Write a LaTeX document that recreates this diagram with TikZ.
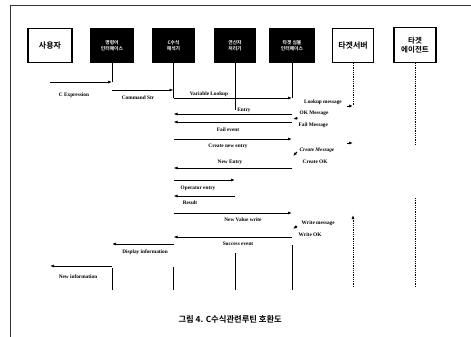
\documentclass[tikz,border=0pt]{standalone}
\usepackage{fontspec}
\setmainfont{Liberation Serif}
\newfontfamily\kr{Noto Sans CJK KR}[BoldFont={* Bold}]
\usetikzlibrary{arrows.meta,calc}
\tikzset{
  box/.style={draw,line width=1.1pt,minimum height=34pt,align=center,inner sep=1pt,font=\kr\bfseries\fontsize{8}{9}\selectfont},
  dark/.style={box,fill=black,text=white,font=\kr\bfseries\fontsize{4.8}{5.8}\selectfont},
  life/.style={line width=0.9pt},
  dlife/.style={line width=0.8pt,densely dotted},
  msg/.style={line width=0.8pt,-{Latex[length=4pt,width=3pt]}},
  lbl/.style={font=\bfseries\fontsize{5.3}{6}\selectfont,inner sep=0.5pt},
  frame/.style={line width=0.8pt,black!80}
}
\begin{document}
\begin{tikzpicture}[x=1pt,y=-1pt]
\useasboundingbox (0,0) rectangle (471,337);
\fill[white] (0,0) rectangle (471,337);
\draw[frame] (10,337) -- (10,5) -- (471,5);

% header boxes
\node[box,minimum width=44pt] (user) at (50,45.5) {사용자};
\node[dark,minimum width=43pt] (b2) at (112,45.5) {명령어\\인터페이스};
\node[dark,minimum width=41pt] (b3) at (173.5,45.5) {C수식\\해석기};
\node[dark,minimum width=40pt] (b4) at (235,45.5) {연산자\\처리기};
\node[dark,minimum width=45pt] (b5) at (292,45.5) {타겟 심볼\\인터페이스};
\node[box,minimum width=41pt] (ts) at (353,45.5) {타겟서버};
\node[box,minimum width=42pt,minimum height=35pt,font=\kr\bfseries\fontsize{7.5}{8.5}\selectfont] (ta) at (415,45) {타겟\\에이전트};

% upper lifelines
\draw[life] (b2.south) -- (b2 |- 0,82);
\draw[life] (b3.south) -- (b3 |- 0,98);
\draw[life] (b4.south) -- (b4 |- 0,110);
\draw[life] (b5.south) -- (b5 |- 0,98);
\draw[dlife] (ts.south) -- (ts |- 0,105);
\draw[dlife] (ta.south) -- (ta |- 0,145);
\draw[dlife] (ta |- 0,198) -- (ta |- 0,287);

% messages
\draw[msg] (user |- 0,82) -- (b2 |- 0,82);
\node[lbl] (l1) at (74,95) {C Expression};
\draw[msg] (b2 |- 0,90) -- (b3 |- 0,90);
\node[lbl] (l2) at (138,98) {Command Str};
\draw[msg] (b3 |- 0,98) -- (b5 |- 0,98);
\node[lbl] (l3) at (209,94) {Variable Lookup};

\draw[msg] ($(ts |- 0,106)+(-6,0)$) -- (ts |- 0,106);
\node[lbl] (l4) at (323,102) {Lookup message};

\node[lbl] (l5) at (244,110) {Entry};
\draw[msg] (b5 |- 0,114) -- (b3 |- 0,114);
\draw[msg] ($(b5 |- 0,118)+(6,0)$) -- ($(b5 |- 0,119)+(1,0)$);
\node[lbl,anchor=west] (l6) at (299,113) {OK Message};
\draw[msg] (b5 |- 0,122) -- (b3 |- 0,122);
\node[lbl,anchor=west] (l7) at (298,125) {Fail Message};
\node[lbl] (l8) at (228,130) {Fail event};

\draw[msg] (b3 |- 0,139) -- (b5 |- 0,139);
\node[lbl] (l9) at (228,146) {Create new entry};
\draw[msg] ($(ts |- 0,143)+(-6,0)$) -- (ts |- 0,143);
\node[lbl,anchor=west,font=\bfseries\itshape\fontsize{5.3}{6}\selectfont] (l10) at (299,150) {Create Message};
\draw[msg] ($(b5 |- 0,154)+(5,-2)$) -- ($(b5 |- 0,156)+(1,0)$);
\node[lbl,anchor=west] (l11) at (302,162) {Create OK};

\node[lbl] (l12) at (230,162) {New Entry};
\draw[msg] (b5 |- 0,168) -- (b3 |- 0,168);

\draw[msg] (b3 |- 0,180) -- (b4 |- 0,180);
\node[lbl] (l13) at (198,188) {Operator entry};
\draw[msg] (b4 |- 0,196) -- (b3 |- 0,196);
\node[lbl] (l14) at (190,203) {Result};

\draw[msg] (b3 |- 0,213) -- (b5 |- 0,213);
\node[lbl] (l15) at (243,220) {New Value write};
\draw[dlife,-{Latex[length=4pt,width=3pt]}] (ts |- 0,287) -- (ts |- 0,215);
\node[lbl,anchor=west] (l16) at (301,223) {Write message};
\draw[msg] ($(b5 |- 0,227)+(5,-1)$) -- ($(b5 |- 0,229)+(1,0)$);
\node[lbl,anchor=west] (l17) at (298,235) {Write OK};

\draw[msg] (b5 |- 0,237) -- (b3 |- 0,237);
\node[lbl] (l18) at (238,244) {Success event};
\draw[msg] (b3 |- 0,244) -- (b2 |- 0,244);
\node[lbl] (l19) at (145,252) {Display information};
\draw[msg] (b2 |- 0,266) -- (user |- 0,266);
\node[lbl] (l20) at (78,277) {New information};

% lower lifelines
\draw[life] (b2 |- 0,268) -- (b2 |- 0,290);
\draw[life] (b3 |- 0,267) -- (b3 |- 0,290);
\draw[life] (b4 |- 0,253) -- (b4 |- 0,290);
\draw[life] (b5 |- 0,245) -- (b5 |- 0,290);

\node[font=\kr\bfseries\fontsize{8.3}{9}\selectfont,anchor=west] (cap) at (175,319) {그림 4. C수식관련루틴 호환도};
\end{tikzpicture}
\end{document}
